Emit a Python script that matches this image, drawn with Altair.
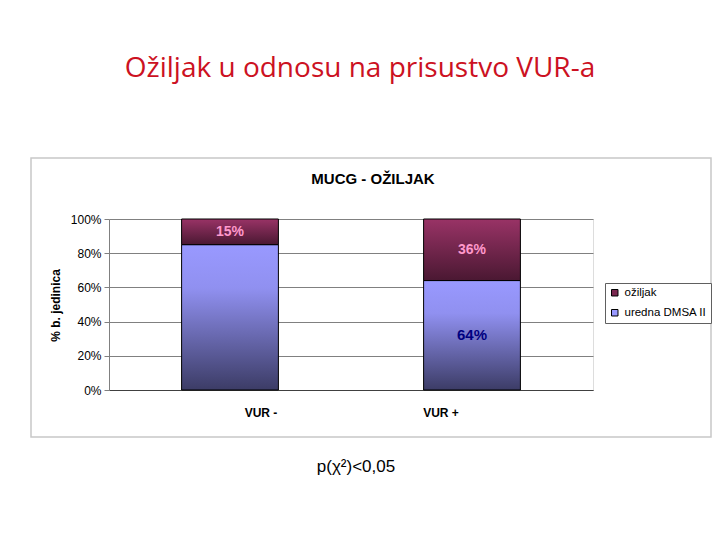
import altair as alt
import pandas as pd

# ---- data ----
categories = ["VUR -", "VUR +"]
uredna = [0.85, 0.64]          # "uredna DMSA II" share
oziljak = [0.15, 0.36]         # "ožiljak" share
top_labels = ["15%", "36%"]
bottom_labels = ["", "64%"]
series = ["ožiljak", "uredna DMSA II"]
series_colors = ["#7a2850", "#9999ff"]
y_ticks = [0, 0.2, 0.4, 0.6, 0.8, 1.0]

slide_title = "Ožiljak u odnosu na prisustvo VUR-a"
chart_title = "MUCG - OŽILJAK"
note = "p(χ²)<0,05"
y_title = "% b. jedinica"

FONT = "Liberation Sans"

df = pd.DataFrame({
    "cat": categories,
    "uredna": uredna,
    "oziljak": oziljak,
    "top_label": top_labels,
    "bottom_label": bottom_labels,
})
df["zero"] = 0.0
df["total"] = df["uredna"] + df["oziljak"]
df["top_mid"] = df["uredna"] + df["oziljak"] / 2
df["bot_mid"] = df["uredna"] / 2

x_enc = alt.X(
    "cat:N", sort=categories, title=None,
    scale=alt.Scale(paddingInner=0.6, paddingOuter=0.3),
    axis=alt.Axis(labelAngle=0, labelFont=FONT, labelFontSize=12, labelFontWeight="bold",
                  labelColor="black", labelPadding=17, ticks=False, domainColor="#404040",
                  grid=False,
                  labelOffset={"condition": {"test": "datum.value == 'VUR -'", "value": 31},
                               "value": -31}),
)
y_scale = alt.Scale(domain=[0, 1], nice=False)
y_axis = alt.Axis(values=y_ticks, format=".0%", labelFont=FONT, labelFontSize=12,
                  labelColor="black", tickSize=5, tickColor="#808080", domainColor="#808080",
                  gridColor="#808080", gridWidth=1, labelPadding=3, labelOverlap=False,
                  labelFlush=False,
                  title=y_title, titleFont=FONT, titleFontSize=12, titleFontWeight="bold",
                  titleColor="black", titleX=-54, titleY=86, titleAlign="center",
                  titleBaseline="middle", titleAngle=270)

grad_bottom = alt.Gradient(
    gradient="linear", x1=0, y1=0, x2=0, y2=1,
    stops=[alt.GradientStop(color="#9999ff", offset=0),
           alt.GradientStop(color="#9090f0", offset=0.3),
           alt.GradientStop(color="#3c3c66", offset=1)])
grad_top = alt.Gradient(
    gradient="linear", x1=0, y1=0, x2=0, y2=1,
    stops=[alt.GradientStop(color="#993366", offset=0),
           alt.GradientStop(color="#4a1832", offset=1)])

base = alt.Chart(df)

bottom = base.mark_bar(color=grad_bottom, stroke="black", strokeWidth=1).encode(
    x=x_enc,
    y=alt.Y("zero:Q", scale=y_scale, axis=y_axis),
    y2="uredna:Q",
)
top = base.mark_bar(color=grad_top, stroke="black", strokeWidth=1).encode(
    x=x_enc, y=alt.Y("uredna:Q", scale=y_scale, axis=y_axis), y2="total:Q",
)
top_text = base.mark_text(font=FONT, fontSize=14, fontWeight="bold", color="#ff99cc").encode(
    x=x_enc, y=alt.Y("top_mid:Q", scale=y_scale, axis=y_axis), text="top_label:N",
)
bottom_text = base.mark_text(font=FONT, fontSize=15, fontWeight="bold", color="#000080").encode(
    x=x_enc, y=alt.Y("bot_mid:Q", scale=y_scale, axis=y_axis), text="bottom_label:N",
)

legend_df = pd.DataFrame({"series": series})
legend_layer = alt.Chart(legend_df).mark_rect().encode(
    x=alt.value(0), x2=alt.value(0), y=alt.value(0), y2=alt.value(0),
    color=alt.Color("series:N", sort=series,
                    scale=alt.Scale(domain=series, range=series_colors),
                    legend=alt.Legend(title=None, orient="none", legendX=496, legendY=64,
                                      labelFont=FONT, labelFontSize=11.5, labelColor="black",
                                      symbolType="square", symbolSize=42, labelOffset=4,
                                      symbolStrokeColor="black", symbolStrokeWidth=1,
                                      rowPadding=7, padding=4, strokeColor="#606060",
                                      fillColor="white", labelLimit=200)),
)

border = alt.Chart(pd.DataFrame({"b": [1]})).mark_rect(
    fillOpacity=0, stroke="#c8c8c8", strokeWidth=1.5
).encode(x=alt.value(-78), x2=alt.value(602), y=alt.value(-61), y2=alt.value(218))

t1 = alt.Chart(pd.DataFrame({"t": [slide_title]})).mark_text(
    font="Open Sans", fontSize=28, color="#cc1122", align="center", baseline="alphabetic"
).encode(x=alt.value(251), y=alt.value(-142), text="t:N")
t2 = alt.Chart(pd.DataFrame({"t": [chart_title]})).mark_text(
    font=FONT, fontSize=15, fontWeight="bold", color="black", align="center", baseline="middle"
).encode(x=alt.value(264), y=alt.value(-40), text="t:N")
t3 = alt.Chart(pd.DataFrame({"t": [note]})).mark_text(
    font=FONT, fontSize=17, color="black", align="center", baseline="middle"
).encode(x=alt.value(247), y=alt.value(248), text="t:N")

chart = alt.layer(
    border, bottom, top, top_text, bottom_text, legend_layer, t1, t2, t3
).resolve_scale(color="independent").properties(
    width=484, height=171,
    autosize="none",
    padding={"left": 101, "top": 211, "right": 119, "bottom": 140},
).configure_view(fill="#c0c0c0", stroke="transparent").configure(background="white")

chart.save("out.html", embed_options={"renderer": "svg", "actions": False})
